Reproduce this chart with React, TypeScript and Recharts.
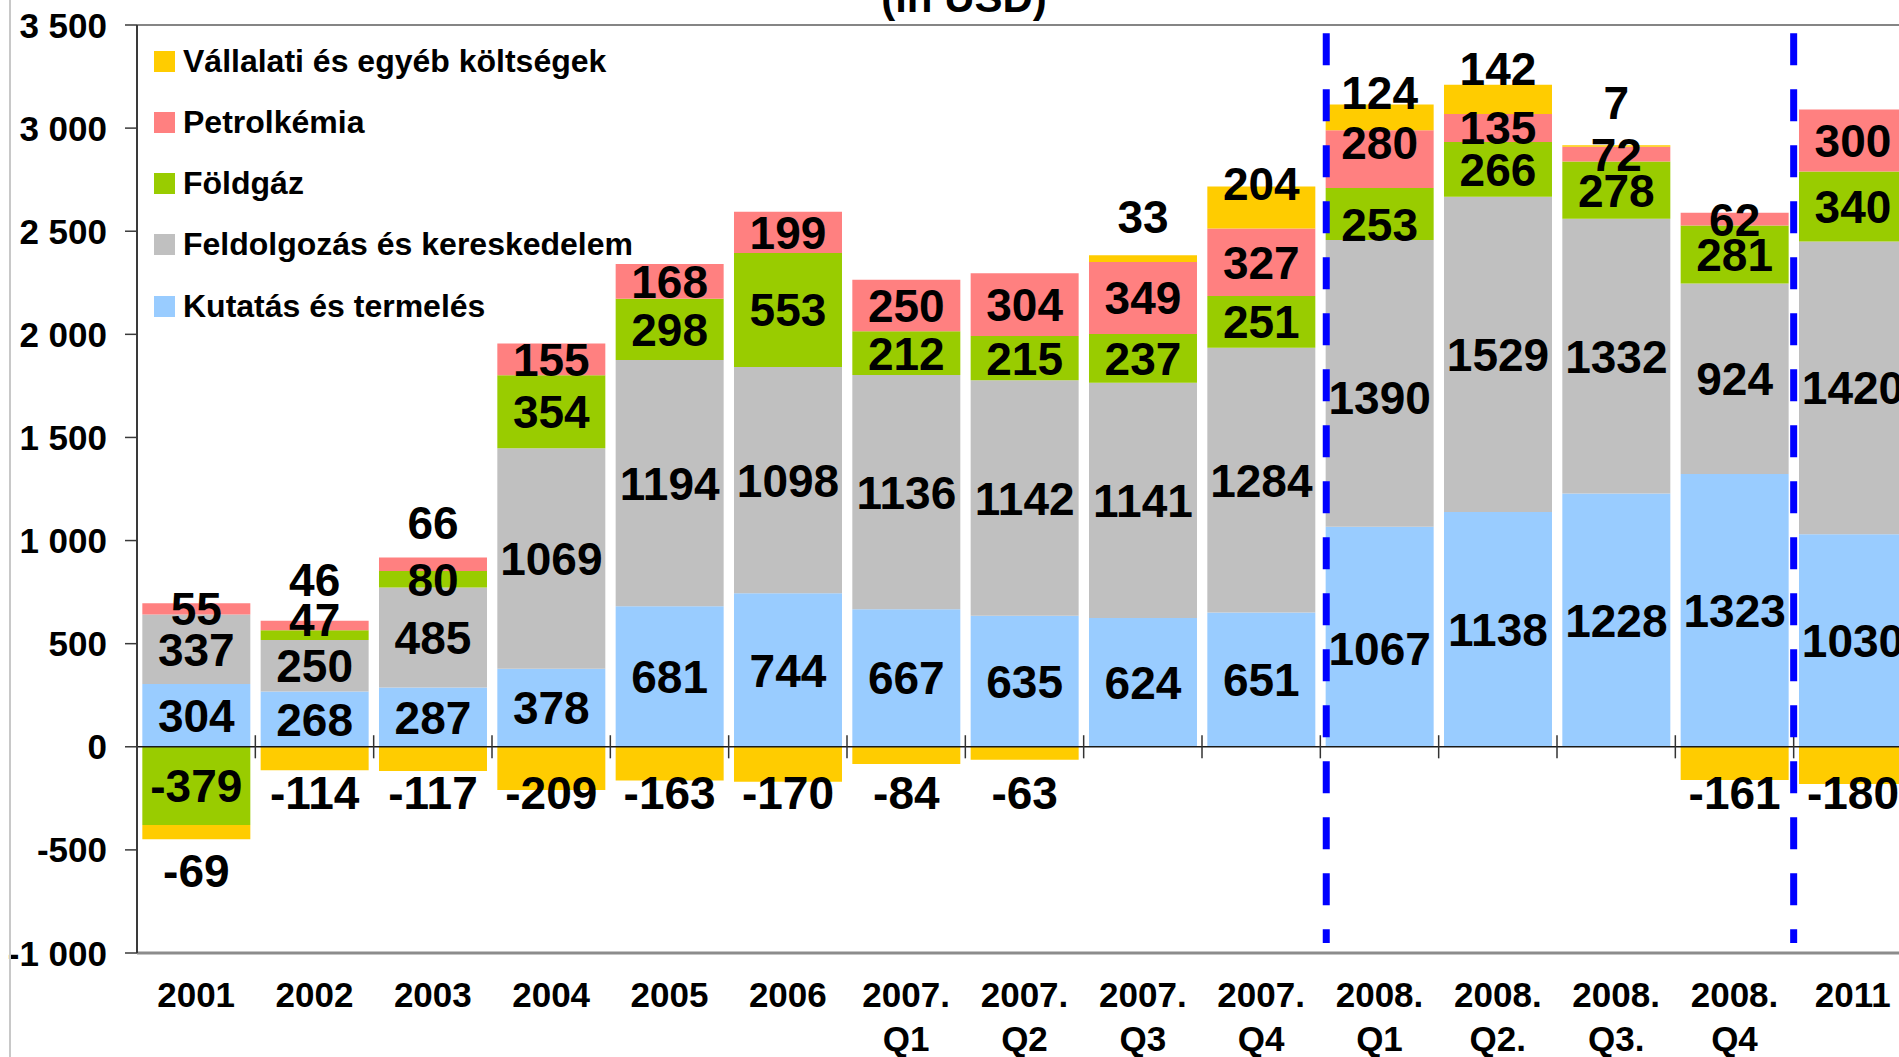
import React from "react";
import { BarChart, Bar, XAxis, YAxis, ReferenceLine, Legend, LabelList } from "recharts";

const FONT = "'Liberation Sans', Arial, sans-serif";

const CATEGORIES = [
  "2001", "2002", "2003", "2004", "2005", "2006",
  "2007.\nQ1", "2007.\nQ2", "2007.\nQ3", "2007.\nQ4",
  "2008.\nQ1", "2008.\nQ2.", "2008.\nQ3.", "2008.\nQ4", "2011",
];

const KUTATAS = [304, 268, 287, 378, 681, 744, 667, 635, 624, 651, 1067, 1138, 1228, 1323, 1030];
const FELDOLGOZAS = [337, 250, 485, 1069, 1194, 1098, 1136, 1142, 1141, 1284, 1390, 1529, 1332, 924, 1420];
const FOLDGAZ = [-379, 47, 80, 354, 298, 553, 212, 215, 237, 251, 253, 266, 278, 281, 340];
const PETROLKEMIA = [55, 46, 66, 155, 168, 199, 250, 304, 349, 327, 280, 135, 72, 62, 300];
const VALLALATI = [-69, -114, -117, -209, -163, -170, -84, -63, 33, 204, 124, 142, 7, -161, -180];

const Y_TICKS = [-1000, -500, 0, 500, 1000, 1500, 2000, 2500, 3000, 3500];
// blue dashed separators, in category units (0 = left edge of 2001)
const PERIOD_BREAKS = [10.05, 14];
const CATEGORY_EDGES = [1, 2, 3, 4, 5, 6, 7, 8, 9, 10, 11, 12, 13, 14];

const SERIES = [
  { key: "kut", name: "Kutatás és termelés", color: "#99CCFF", values: KUTATAS },
  { key: "feld", name: "Feldolgozás és kereskedelem", color: "#C0C0C0", values: FELDOLGOZAS },
  { key: "fold", name: "Földgáz", color: "#99CC00", values: FOLDGAZ },
  { key: "petr", name: "Petrolkémia", color: "#FF8080", values: PETROLKEMIA },
  { key: "vall", name: "Vállalati és egyéb költségek", color: "#FFCC00", values: VALLALATI },
];

// hand-moved labels in the original (pixels, + = down)
const LABEL_NUDGE: Record<string, number> = {
  "fold-1": -16, "petr-1": -46, "petr-2": -42,
  "vall-8": -42, "vall-9": -24,
  "kut-10": 12, "feld-10": 14, "fold-10": 11, "petr-10": -17, "vall-10": -25,
  "vall-11": -31, "vall-12": -43,
};

const LABEL_SIZE = 46;
const AXIS_SIZE = 35;

function fmtTick(v: number) {
  const a = Math.abs(v);
  const s = a >= 1000 ? `${Math.floor(a / 1000)} ${String(a % 1000).padStart(3, "0")}` : String(a);
  return v < 0 ? `-${s}` : s;
}

function makeLabel(key: string, values: number[]) {
  return (props: any) => {
    const vb = props.viewBox && props.viewBox.width !== undefined ? props.viewBox : props;
    const x = Number(vb.x), y = Number(vb.y), w = Number(vb.width), h = Number(vb.height);
    if (!isFinite(x) || !isFinite(y)) return null;
    let index = props.index;
    if (index === undefined) index = Math.floor((x + w / 2 - 137) / 118.33);
    const v = values[index];
    const top = Math.min(y, y + h);
    const bottom = Math.max(y, y + h);
    let cy = (top + bottom) / 2;
    if (key === "vall" && v < 0) cy = top + 45.5;
    cy += LABEL_NUDGE[`${key}-${index}`] ?? 0;
    return (
      <text x={x + w / 2} y={cy + LABEL_SIZE * 0.358} textAnchor="middle" fontSize={LABEL_SIZE}
        fontWeight="bold" fill="#000" fontFamily={FONT}>
        {v}
      </text>
    );
  };
}

const XTick = (props: any) => {
  const { x, y, payload } = props;
  const lines = String(payload.value).split("\n");
  return (
    <g>
      {lines.map((ln, i) => (
        <text key={i} x={x} y={y + 54 + i * 44} textAnchor="middle" fontSize={AXIS_SIZE}
          fontWeight="bold" fill="#000" fontFamily={FONT}>
          {ln}
        </text>
      ))}
    </g>
  );
};

const YTick = (props: any) => {
  const { x, y, payload } = props;
  return (
    <text x={x} y={y + AXIS_SIZE * 0.358} textAnchor="end" fontSize={AXIS_SIZE}
      fontWeight="bold" fill="#000" fontFamily={FONT}>
      {fmtTick(payload.value)}
    </text>
  );
};

const renderLegend = () => (
  <div style={{ fontFamily: FONT }}>
    {[...SERIES].reverse().map((s) => (
      <div key={s.key} style={{ display: "flex", alignItems: "center", height: 61.3 }}>
        <span style={{ width: 21, height: 21, background: s.color, marginRight: 8, flex: "none" }} />
        <span style={{ fontSize: 32, fontWeight: "bold", color: "#000", whiteSpace: "nowrap" }}>{s.name}</span>
      </div>
    ))}
  </div>
);

export default function App() {
  const data = CATEGORIES.map((cat, i) => ({
    cat,
    pos: i + 0.5,
    kut: KUTATAS[i],
    feld: FELDOLGOZAS[i],
    fold: FOLDGAZ[i],
    petr: PETROLKEMIA[i],
    vall: VALLALATI[i],
  }));

  return (
    <div style={{ position: "fixed", left: 0, top: 0, width: 1899, height: 1057, overflow: "hidden", background: "#fff", fontFamily: FONT }}>
      <div style={{ position: "absolute", left: 764, width: 400, top: -22.6, textAlign: "center", fontSize: 42, fontWeight: "bold", lineHeight: "42px", color: "#000" }}>
        (in USD)
      </div>
      <div style={{ position: "absolute", left: 0, top: 0 }}>
        <BarChart width={1912} height={1070} data={data} stackOffset="sign" barCategoryGap="4.5%"
          margin={{ top: 25, right: 0, bottom: 0, left: 0 }}>
          <XAxis dataKey="cat" interval={0} tickLine={false} tickSize={0} tickMargin={0} height={117}
            axisLine={{ stroke: "#8c8c8c", strokeWidth: 3 }} tick={<XTick />} />
          <XAxis xAxisId="num" type="number" dataKey="pos" domain={[0, 15]} allowDataOverflow hide />
          <YAxis width={137} domain={[-1000, 3500]} ticks={Y_TICKS} interval={0} allowDataOverflow
            tickSize={12} tickMargin={18} axisLine={{ stroke: "#3a3a3a", strokeWidth: 2 }}
            tickLine={{ stroke: "#3a3a3a", strokeWidth: 1.5 }} tick={<YTick />} />
          <Legend layout="vertical" align="center" verticalAlign="middle"
            wrapperStyle={{ left: 154, top: 30.4, width: 660 }} content={renderLegend} />
          {SERIES.map((s) => (
            <Bar key={s.key} dataKey={s.key} name={s.name} stackId="a" fill={s.color} isAnimationActive={false}>
              <LabelList dataKey={s.key} content={makeLabel(s.key, s.values)} />
            </Bar>
          ))}
          <ReferenceLine y={3500} stroke="#858585" strokeWidth={2} />
          <ReferenceLine y={0} stroke="#1a1a1a" strokeWidth={1.5} />
          {CATEGORY_EDGES.map((k) => (
            <ReferenceLine key={`e${k}`} xAxisId="num" segment={[{ x: k, y: 56 }, { x: k, y: -56 }]}
              stroke="#333" strokeWidth={1.5} />
          ))}
          {PERIOD_BREAKS.map((k) => (
            <ReferenceLine key={`b${k}`} xAxisId="num" segment={[{ x: k, y: 3460 }, { x: k, y: -951 }]}
              stroke="#0000FF" strokeWidth={7} strokeDasharray="32 24" />
          ))}
        </BarChart>
      </div>
      <div style={{ position: "absolute", left: 9, top: 0, width: 2, height: 1057, background: "#c8c8c8" }} />
    </div>
  );
}
